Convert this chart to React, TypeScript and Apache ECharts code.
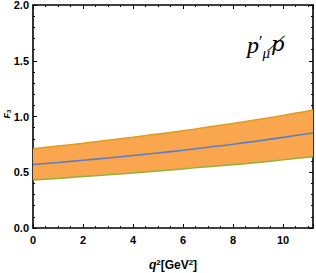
import React, { useEffect, useRef } from "react";
import * as echarts from "echarts";

const q2 = [0, 1, 2, 3, 4, 5, 6, 7, 8, 9, 10, 11, 11.2];
const central = [0.57, 0.588, 0.608, 0.628, 0.65, 0.672, 0.697, 0.724, 0.751, 0.781, 0.813, 0.846, 0.852];
const upper = [0.711, 0.735, 0.76, 0.787, 0.815, 0.842, 0.872, 0.905, 0.938, 0.973, 1.01, 1.05, 1.058];
const lower = [0.43, 0.445, 0.461, 0.477, 0.494, 0.511, 0.53, 0.55, 0.567, 0.588, 0.611, 0.635, 0.64];
const xTicks = [0, 2, 4, 6, 8, 10];
const yTicks = [0.0, 0.5, 1.0, 1.5, 2.0];

const pairs = (ys: number[]) => q2.map((x, i) => [x, ys[i]]);

export default function App() {
  const ref = useRef<HTMLDivElement>(null);
  useEffect(() => {
    if (!ref.current) return;
    const chart = echarts.init(ref.current, null, { renderer: "svg" });
    const labelStyle = {
      fontFamily: "Liberation Sans",
      fontWeight: "bold" as const,
      fontSize: 11,
      color: "#000",
    };
    const axisCommon = {
      type: "value" as const,
      axisLine: { show: true, onZero: false, lineStyle: { color: "#000", width: 1.6 } },
      splitLine: { show: false },
    };
    const tick = { show: true, inside: true, length: 4, lineStyle: { color: "#000", width: 1 } };
    chart.setOption({
      animation: false,
      grid: { left: 33, right: 3, top: 5, bottom: 45, containLabel: false, outerBoundsMode: "none" },
      xAxis: [
        {
          ...axisCommon,
          min: 0,
          max: 11.2,
          interval: 2,
          position: "bottom",
          axisTick: tick,
          minorTick: { show: true, splitNumber: 4, length: 2, lineStyle: { color: "#000", width: 1 } },
          axisLabel: {
            ...labelStyle,
            margin: 6,
            showMaxLabel: false,
            formatter: (v: number) => (xTicks.includes(v) ? String(v) : ""),
          },
          name: "{i|q}{s|2}{b|[GeV}{s|2}{b|]}",
          nameLocation: "middle",
          nameGap: 30,
          nameTextStyle: {
            rich: {
              i: { fontFamily: "Liberation Sans", fontStyle: "italic", fontWeight: "bold", fontSize: 12, color: "#000" },
              b: { fontFamily: "Liberation Sans", fontWeight: "bold", fontSize: 12, color: "#000" },
              s: { fontFamily: "Liberation Sans", fontWeight: "bold", fontSize: 8, verticalAlign: "top", padding: [0, 0, 6, 0], color: "#000" },
            },
          },
        },
        {
          ...axisCommon,
          min: 0,
          max: 11.2,
          interval: 2,
          position: "top",
          axisTick: tick,
          minorTick: { show: true, splitNumber: 4, length: 2, lineStyle: { color: "#000", width: 1 } },
          axisLabel: { show: false },
        },
      ],
      yAxis: [
        {
          ...axisCommon,
          min: 0,
          max: 2,
          interval: 0.5,
          position: "left",
          axisTick: tick,
          minorTick: { show: true, splitNumber: 5, length: 2, lineStyle: { color: "#000", width: 1 } },
          axisLabel: {
            ...labelStyle,
            margin: 4,
            formatter: (v: number) => (yTicks.includes(v) ? v.toFixed(1) : ""),
          },
        },
        {
          ...axisCommon,
          min: 0,
          max: 2,
          interval: 0.5,
          position: "right",
          axisTick: tick,
          minorTick: { show: true, splitNumber: 5, length: 2, lineStyle: { color: "#000", width: 1 } },
          axisLabel: { show: false },
        },
      ],
      series: [
        {
          type: "custom",
          data: [[0, 0]],
          silent: true,
          z: 1,
          renderItem: (params: any, api: any) => {
            const pts: number[][] = [];
            for (let i = 0; i < q2.length; i++) pts.push(api.coord([q2[i], upper[i]]));
            for (let i = q2.length - 1; i >= 0; i--) pts.push(api.coord([q2[i], lower[i]]));
            return {
              type: "polygon",
              shape: { points: pts },
              style: { fill: "#F9A64F", stroke: "none" },
            };
          },
        },
        {
          type: "line",
          data: pairs(upper),
          symbol: "none",
          smooth: true,
          z: 3,
          lineStyle: { color: "#E39A1E", width: 1.5 },
        },
        {
          type: "line",
          data: pairs(lower),
          symbol: "none",
          smooth: true,
          z: 3,
          lineStyle: { color: "#8CB43A", width: 1.5 },
        },
        {
          type: "line",
          data: pairs(central),
          symbol: "none",
          smooth: true,
          z: 3,
          lineStyle: { color: "#5B7EC4", width: 1.6 },
        },
      ],
      graphic: [
        {
          type: "text",
          x: 7,
          y: 114,
          rotation: Math.PI / 2,
          z: 10,
          style: {
            text: "{i|F}{s|3}",
            align: "center",
            verticalAlign: "middle",
            rich: {
              i: { fontFamily: "Liberation Sans", fontStyle: "italic", fontWeight: "bold", fontSize: 9, color: "#000" },
              s: { fontFamily: "Liberation Sans", fontWeight: "bold", fontSize: 6, verticalAlign: "bottom", color: "#000" },
            },
          },
        },
        {
          type: "text",
          x: 247,
          y: 33,
          z: 10,
          style: {
            text: "{p|p}{pr|′}{mu|μ}{q|p\u0338}",
            rich: {
              p: { fontFamily: "Liberation Serif", fontStyle: "italic", fontSize: 24, color: "#000", verticalAlign: "top" },
              pr: { fontFamily: "Liberation Serif", fontSize: 16, verticalAlign: "top", color: "#000", padding: [0, 0, 10, 0] },
              mu: { fontFamily: "Liberation Serif", fontStyle: "italic", fontSize: 15, verticalAlign: "bottom", color: "#000", padding: [12, 1, 0, 0] },
              q: { fontFamily: "DejaVu Serif", fontStyle: "italic", fontSize: 21, color: "#000", verticalAlign: "top" },
            },
          },
        },
      ],
    });
    return () => chart.dispose();
  }, []);
  return <div ref={ref} style={{ width: 316, height: 273, position: "absolute", left: 0, top: 0 }} />;
}
